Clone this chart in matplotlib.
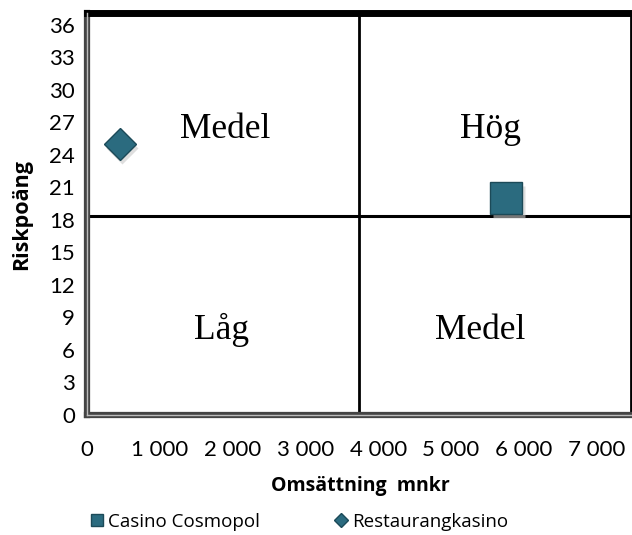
import matplotlib.pyplot as plt
import matplotlib.transforms as mtransforms
from matplotlib.lines import Line2D

# Omsättning (mnkr) och riskpoäng per spelform
namn = ["Casino Cosmopol", "Restaurangkasino"]
omsattning = [5760, 450]
riskpoang = [20, 25]
markorer = ["s", "D"]
storlek = [23, 16.5]

# Gränser för riskmatrisen
x_grans = 3730
y_grans = 18.4
kvadranter = [("Medel", 0.254, 0.709), ("Hög", 0.741, 0.709),
              ("Låg", 0.248, 0.211), ("Medel", 0.722, 0.211)]

x_ticks = [0, 1000, 2000, 3000, 4000, 5000, 6000, 7000]
y_ticks = list(range(0, 37, 3))

W, H = 632, 535
fig = plt.figure(figsize=(W / 100, H / 100), dpi=100)
ax = fig.add_axes([87 / W, (H - 415) / H, (631 - 87) / W, (415 - 13) / H])

farg = "#2b6b7f"
kant = "#1c4a58"
for n, x, y, m, s in zip(namn, omsattning, riskpoang, markorer, storlek):
    # mjuk skugga under markören
    skugga = mtransforms.offset_copy(ax.transData, fig=fig, x=1.5, y=-2.5, units="points")
    ax.plot(x, y, m, ms=s, color="#c8c8c8", mec="none", alpha=0.6, transform=skugga, zorder=3)
    ax.plot(x, y, m, ms=s, color=farg, mec=kant, mew=1, zorder=4, label=n)

ax.axvline(x_grans, color="black", lw=2, zorder=2)
ax.axhline(y_grans, color="black", lw=2.2, zorder=2)

for txt, fx, fy in kvadranter:
    ax.text(fx, fy, txt, transform=ax.transAxes, ha="center", va="center",
            fontsize=25.5, family="Liberation Serif")

ax.set_xlim(0, 7470)
ax.set_ylim(0, 37.1)
ax.set_xticks(x_ticks)
ax.set_xticklabels([f"{v:,}".replace(",", " ") for v in x_ticks])
ax.set_yticks(y_ticks)
ax.tick_params(length=0, labelsize=16)
for lab in ax.get_xticklabels() + ax.get_yticklabels():
    lab.set_family("Lato")
ax.tick_params(axis="y", pad=8.5)
ax.tick_params(axis="x", pad=18)

# ramen: dubbla linjer till vänster och nertill, tjock överkant
ax.spines["top"].set_linewidth(5)
ax.spines["right"].set_linewidth(2)
for side in ["left", "bottom"]:
    ax.spines[side].set_linewidth(4.5)
    ax.spines[side].set_color("#444444")
ax.plot([0, 1], [0, 0], color="#bbbbbb", lw=1, transform=ax.transAxes, clip_on=False, zorder=5)
ax.plot([0, 0], [0, 1], color="#bbbbbb", lw=1, transform=ax.transAxes, clip_on=False, zorder=5)

fig.text(22 / W, 1 - 214 / H, "Riskpoäng", rotation=90, ha="center", va="center",
         fontsize=15.5, fontweight="bold", family="Open Sans")
fig.text(360 / W, 1 - 486 / H, "Omsättning  mnkr", ha="center", va="center",
         fontsize=14, fontweight="bold", family="Open Sans")

handles = [Line2D([], [], marker="s", ls="none", ms=8, color=farg, mec=kant),
           Line2D([], [], marker="D", ls="none", ms=7, color=farg, mec=kant)]
fig.legend(handles, namn, loc="center", bbox_to_anchor=(298 / W, 1 - 522 / H), ncol=2,
           frameon=False, columnspacing=3.8, handletextpad=0.1,
           handlelength=1.0, prop={"family": "Open Sans", "size": 13.5})

fig.savefig("out.png", dpi=100)
